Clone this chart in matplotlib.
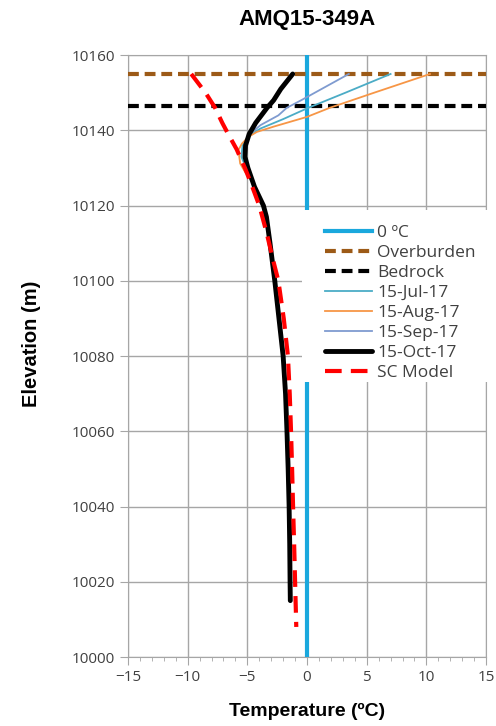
import numpy as np
import matplotlib.pyplot as plt
from matplotlib.ticker import MultipleLocator

# reference elevations (m)
overburden = 10155.0
bedrock = 10146.4

# 15-Jul-17
z_jul = [10155, 10150, 10146, 10143, 10140.5, 10138.5, 10136, 10133, 10130, 10126, 10120,
         10110, 10100, 10080, 10060, 10040, 10020, 10015]
t_jul = [7.0, 3.2, 0.1, -2.0, -3.9, -4.9, -5.4, -5.5, -5.1, -4.5, -3.7,
         -3.1, -2.7, -2.0, -1.68, -1.5, -1.42, -1.4]

# 15-Aug-17
z_aug = [10155, 10150, 10146, 10143.6, 10141, 10139.6, 10138.3, 10136.5, 10134.8, 10131.2,
         10129, 10126, 10120, 10110, 10100, 10080, 10060, 10040, 10020, 10015]
t_aug = [10.3, 5.6, 1.9, 0.0, -2.8, -4.2, -4.9, -5.45, -5.75, -5.6,
         -5.2, -4.5, -3.7, -3.1, -2.7, -2.0, -1.68, -1.5, -1.42, -1.4]

# 15-Sep-17
z_sep = [10155, 10148, 10146, 10144, 10141.4, 10139, 10136, 10133, 10130, 10125, 10120,
         10110, 10100, 10080, 10060, 10040, 10020, 10015]
t_sep = [3.5, -0.5, -1.7, -2.4, -3.9, -4.8, -5.2, -5.25, -5.0, -4.4, -3.65,
         -3.1, -2.7, -2.0, -1.68, -1.5, -1.42, -1.4]

# 15-Oct-17
z_oct = [10155, 10151, 10148, 10146, 10142, 10139, 10136, 10133, 10130, 10125, 10120,
         10117, 10110, 10100, 10090, 10080, 10070, 10060, 10050, 10040, 10030, 10020, 10015]
t_oct = [-1.2, -2.2, -2.8, -3.35, -4.3, -4.85, -5.15, -5.2, -4.95, -4.4, -3.65,
         -3.4, -3.1, -2.7, -2.35, -2.0, -1.8, -1.68, -1.58, -1.5, -1.45, -1.42, -1.4]

# SC model
z_sc = [10155, 10150, 10146, 10142, 10139, 10135, 10130, 10126, 10120, 10113, 10105,
        10100, 10090, 10080, 10070, 10060, 10050, 10040, 10030, 10020, 10008]
t_sc = [-9.7, -8.5, -7.7, -7.1, -6.6, -5.9, -5.2, -4.7, -4.0, -3.4, -2.8,
        -2.4, -1.95, -1.6, -1.45, -1.34, -1.25, -1.17, -1.08, -1.0, -0.9]

fig = plt.figure(figsize=(4.96, 7.26), dpi=100)
ax = fig.add_axes([0.258, 0.095, 0.722, 0.829])

grey = '#A6A6A6'
ax.axvline(0, color='#1AA8DD', lw=3, label='0 ºC', zorder=3)
ax.axhline(overburden, color='#9C5A17', lw=3, dashes=(2.6, 1.4), label='Overburden', zorder=3)
ax.axhline(bedrock, color='black', lw=3, dashes=(2.6, 1.4), label='Bedrock', zorder=3)
ax.plot(t_jul, z_jul, color='#4BACC6', lw=1.3, label='15-Jul-17', zorder=4)
ax.plot(t_aug, z_aug, color='#F79646', lw=1.3, label='15-Aug-17', zorder=4)
ax.plot(t_sep, z_sep, color='#7F9BD0', lw=1.3, label='15-Sep-17', zorder=4)
ax.plot(t_oct, z_oct, color='black', lw=3.5, label='15-Oct-17', zorder=5,
        solid_capstyle='round')
ax.plot(t_sc, z_sc, color='#FF0000', lw=3, dashes=(4, 2.2), label='SC Model', zorder=6)

ax.set_xlim(-15, 15)
ax.set_ylim(10000, 10160)
ax.xaxis.set_major_locator(MultipleLocator(5))
ax.xaxis.set_minor_locator(MultipleLocator(1))
ax.yaxis.set_major_locator(MultipleLocator(20))
ax.grid(True, which='major', color=grey, lw=1)
for s in ax.spines.values():
    s.set_color(grey)
ax.tick_params(axis='both', which='major', colors=grey, labelcolor='#404040',
               labelsize=11, length=6)
ax.tick_params(axis='x', which='minor', colors=grey, length=3)
for lab in ax.get_xticklabels() + ax.get_yticklabels():
    lab.set_family('Open Sans')

ax.set_title('AMQ15-349A', fontsize=16, fontweight='bold', family='Liberation Sans', pad=22)
ax.set_xlabel('Temperature (ºC)', fontsize=14, fontweight='bold', family='Liberation Sans',
              labelpad=13)
ax.set_ylabel('Elevation (m)', fontsize=14.5, fontweight='bold', family='Liberation Sans')
ax.yaxis.set_label_coords(-0.243, 0.52)

# white legend box (Excel style, hides lines and grid behind it)
ax.add_patch(plt.Rectangle((0.486, 0.457), 0.53, 0.2855, transform=ax.transAxes,
                           facecolor='white', edgecolor='none', zorder=8, clip_on=False))
leg = ax.legend(loc='upper left', bbox_to_anchor=(0.531, 0.729), frameon=False,
                handlelength=2.7, handletextpad=0.3, labelspacing=0.22, borderpad=0.4,
                borderaxespad=0, prop={'family': 'Open Sans', 'size': 12.5})
for t in leg.get_texts():
    t.set_color('#404040')
leg.set_zorder(10)

fig.savefig('out.png', dpi=100)
